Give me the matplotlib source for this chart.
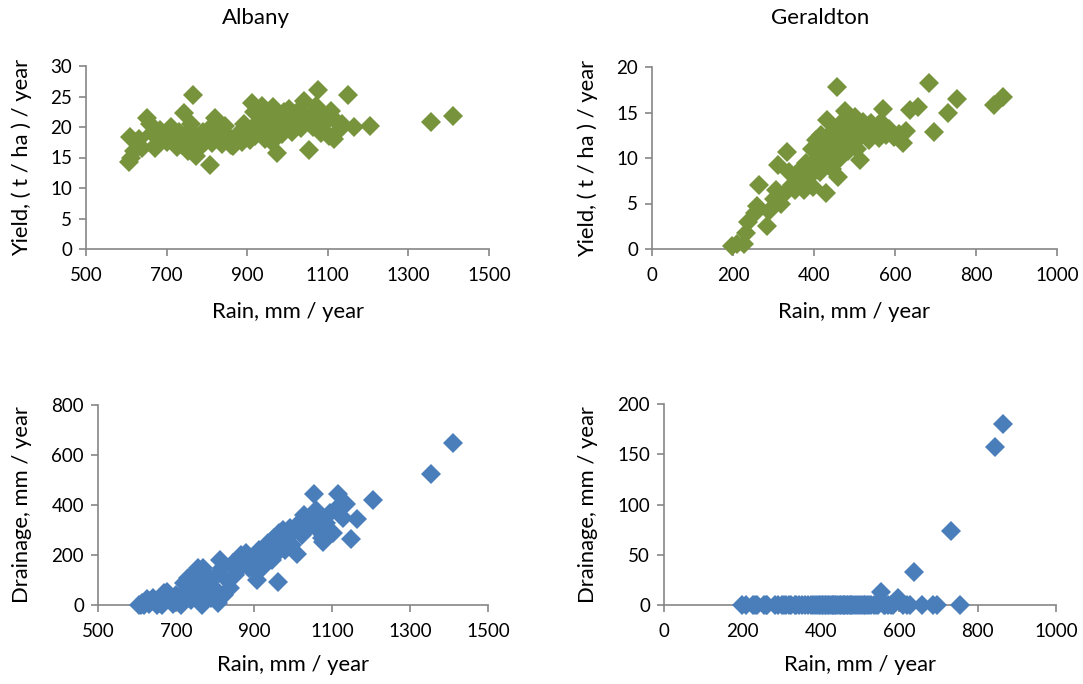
import matplotlib as mpl, matplotlib.pyplot as plt, numpy as np
from matplotlib.transforms import blended_transform_factory

plt.rcParams['font.family'] = ['Lato', 'DejaVu Sans']

# Albany: rain (mm/year), yield (t/ha/year), drainage (mm/year)
alb_rain = [606, 610, 612, 618, 625, 632, 640, 652, 658, 664, 670, 676, 684, 692, 700,
            712, 720, 726, 732, 738, 743, 748, 752, 757, 760, 766, 770, 772, 778, 784,
            790, 796, 802, 807, 810, 813, 819, 824, 830, 838, 845, 852, 860, 866, 872,
            880, 886, 893, 900, 907, 912, 916, 920, 926, 931, 936, 940, 945, 950, 955,
            962, 965, 970, 975, 980, 986, 992, 998, 1004, 1010, 1016, 1022, 1028, 1034,
            1040, 1046, 1054, 1058, 1064, 1070, 1075, 1078, 1084, 1090, 1096, 1102, 1109,
            1115, 1120, 1128, 1135, 1149, 1164, 1204, 1355, 1410]
alb_yield = [14.2, 18.4, 15.0, 16.0, 17.5, 18.0, 16.5, 21.5, 20.5, 19.0, 16.6, 17.2, 19.5, 18.8, 17.5,
             20.0, 18.5, 16.8, 19.2, 17.0, 22.3, 18.2, 16.0, 19.5, 20.5, 25.2, 17.5, 15.2, 18.0, 16.8,
             19.2, 17.6, 18.8, 13.8, 20.0, 17.4, 21.4, 19.6, 18.0, 17.2, 20.2, 18.5, 17.0, 16.9, 18.2,
             19.0, 17.5, 20.5, 19.5, 17.8, 24.0, 22.5, 18.5, 20.8, 19.0, 23.4, 21.5, 18.0, 20.0, 22.0,
             17.5, 23.3, 19.5, 15.8, 21.0, 18.8, 22.5, 20.0, 23.0, 19.2, 21.5, 20.5, 22.8, 19.8,
             24.3, 21.0, 16.3, 22.2, 20.0, 23.5, 26.1, 21.5, 19.0, 22.0, 20.8, 18.5, 22.6,
             18.1, 21.0, 19.5, 20.5, 25.2, 20.0, 20.1, 20.8, 21.8]
alb_drain = [0, 0, 10, 0, 25, 5, 30, 0, 10, 0, 50, 53, 20, 5, 40,
             0, 90, 60, 110, 20, 80, 130, 40, 147, 100, 0, 150, 60, 120, 80,
             30, 110, 60, 10, 130, 180, 150, 40, 100, 67, 170, 120, 140, 200, 180,
             210, 150, 190, 140, 100, 220, 180, 150, 160, 200, 250, 210, 180, 270, 200,
             93, 290, 250, 300, 220, 280, 310, 240, 300, 204, 330, 280, 360, 300,
             340, 320, 443, 380, 300, 350, 270, 253, 330, 300, 370, 290, 380,
             443, 400, 350, 405, 263, 343, 420, 524, 649]

# Geraldton
ger_rain = [198, 210, 227, 233, 236, 255, 260, 263, 283, 290, 300, 305, 312, 318, 325,
            333, 338, 345, 352, 360, 368, 375, 380, 385, 390, 395, 398, 402, 406, 410,
            414, 418, 422, 426, 430, 432, 436, 440, 444, 448, 452, 456, 460, 463, 466,
            470, 474, 477, 480, 485, 490, 495, 500, 505, 510, 514, 518, 522, 528, 535,
            540, 546, 553, 560, 565, 571, 578, 585, 598, 610, 619, 627, 638, 658, 685,
            696, 731, 754, 844, 866]
ger_yield = [0.3, 0.5, 0.6, 1.8, 3.0, 4.0, 4.7, 7.0, 2.5, 4.2, 5.5, 6.5, 9.2, 5.0, 6.0,
             10.7, 8.5, 7.0, 6.5, 7.5, 8.8, 6.5, 9.5, 7.8, 8.2, 11.0, 6.8, 9.0, 12.0, 10.0,
             8.5, 12.5, 11.0, 9.5, 6.1, 14.2, 10.5, 12.0, 8.8, 13.0, 11.2, 17.8, 7.9, 10.0, 12.5,
             14.0, 11.5, 15.2, 12.8, 10.8, 13.5, 12.0, 14.5, 11.0, 13.0, 9.8, 12.5, 14.0, 13.2, 12.0,
             13.8, 12.5, 13.0, 12.2, 14.0, 15.4, 12.5, 13.2, 12.3, 12.6, 11.7, 13.0, 15.3, 15.6, 18.2,
             12.9, 14.9, 16.5, 15.8, 16.7]
ger_drain = [0] * 62 + [13, 0, 0, 0, 0, 0, 6.5, 0, 0, 0, 33, 0, 0,
                        0, 74, 0, 157, 180]

GREEN = '#77933C'
BLUE = '#4A7EBB'
GREY = '#868686'

W, H = 1083, 684
fig = plt.figure(figsize=(W / 100, H / 100), dpi=100)


def style(ax, xlim, xticks, ylim, yticks, ylabel, ylab_x, xlab_y):
    ax.set_xlim(*xlim)
    ax.set_ylim(*ylim)
    ax.set_xticks(xticks)
    ax.set_yticks(yticks)
    for s in ('top', 'right'):
        ax.spines[s].set_visible(False)
    for s in ('left', 'bottom'):
        ax.spines[s].set_color(GREY)
        ax.spines[s].set_linewidth(1.2)
    ax.tick_params(direction='out', length=5, width=1.2, color=GREY,
                   labelsize=13.5, labelcolor='black')
    ax.tick_params(axis='x', pad=8)
    ax.tick_params(axis='y', pad=5)
    ax.set_xlabel('Rain, mm / year', fontsize=15.8)
    ax.set_ylabel(ylabel, fontsize=15.8)
    ax.yaxis.set_label_coords(ylab_x / W, 0.5,
                              transform=blended_transform_factory(fig.transFigure, ax.transAxes))
    ax.xaxis.set_label_coords(0.5, 1 - xlab_y / H,
                              transform=blended_transform_factory(ax.transAxes, fig.transFigure))


def scatter(ax, x, y, c):
    ax.plot(x, y, linestyle='none', marker='D', ms=10.5, mew=0,
            color=c, clip_on=False, zorder=3)


ax1 = fig.add_axes([86 / W, 1 - 249 / H, 403 / W, 183 / H])
scatter(ax1, alb_rain, alb_yield, GREEN)
style(ax1, (500, 1500), range(500, 1501, 200), (0, 30), range(0, 31, 5),
      'Yield, ( t / ha ) / year', 32, 302)

ax2 = fig.add_axes([652 / W, 1 - 249 / H, 405 / W, 182 / H])
scatter(ax2, ger_rain, ger_yield, GREEN)
style(ax2, (0, 1000), range(0, 1001, 200), (0, 20), range(0, 21, 5),
      'Yield, ( t / ha ) / year', 598, 302)

ax3 = fig.add_axes([98 / W, 1 - 605 / H, 390 / W, 200 / H])
scatter(ax3, alb_rain, alb_drain, BLUE)
style(ax3, (500, 1500), range(500, 1501, 200), (0, 800), range(0, 801, 200),
      'Drainage, mm / year', 32, 655)

ax4 = fig.add_axes([664 / W, 1 - 605 / H, 392 / W, 201 / H])
scatter(ax4, ger_rain, ger_drain, BLUE)
style(ax4, (0, 1000), range(0, 1001, 200), (0, 200), range(0, 201, 50),
      'Drainage, mm / year', 598, 655)

fig.text(256 / W, 1 - 18 / H, 'Albany', ha='center', va='center', fontsize=16)
fig.text(820 / W, 1 - 18 / H, 'Geraldton', ha='center', va='center', fontsize=16)

fig.savefig('out.png', dpi=100)
